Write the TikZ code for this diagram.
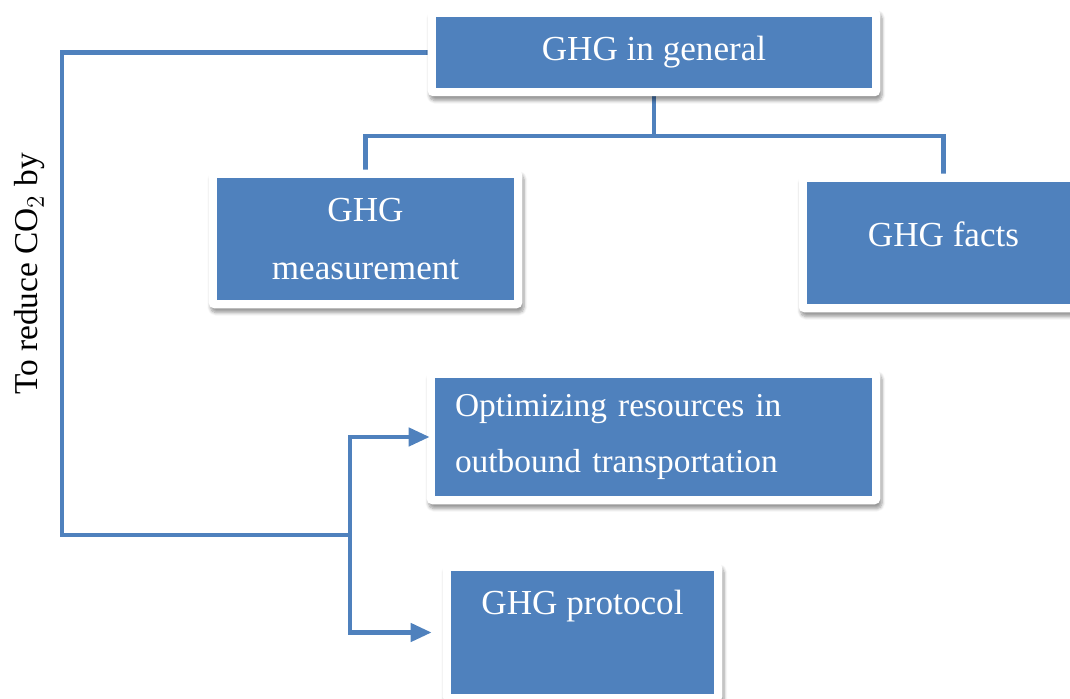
\documentclass[tikz,border=0pt]{standalone}
\usepackage{fontspec}
\setmainfont{Liberation Serif}
\usepackage{tikz}
\usetikzlibrary{arrows.meta,backgrounds,fit,shadows.blur}
\definecolor{ghgblue}{HTML}{4F81BD}

\begin{document}
\begin{tikzpicture}[
    box/.style={rectangle, fill=ghgblue, text=white, inner sep=0pt,
                font=\fontsize{20}{33}\selectfont, align=center},
    frame/.style={rectangle, rounded corners=3pt, fill=white, inner sep=4.5pt,
                  blur shadow={shadow xshift=1pt, shadow yshift=-2.5pt, shadow blur steps=6}},
    link/.style={draw=ghgblue, line width=2.6pt},
    arrow/.style={link, -{Triangle[length=0.42cm, width=0.36cm]}}
]
\useasboundingbox (0,0) rectangle (21.4,13.98);

% Top box
\node[box, minimum width=8.72cm, minimum height=1.42cm] (gen) at (13.08,12.93) {GHG in general};

% Row 2: the two branches
\node[box, minimum width=5.94cm, minimum height=2.44cm] (meas) at (7.31,9.2) {GHG\\measurement};
\node[box, minimum width=5.46cm, minimum height=2.44cm, text depth=0.35cm] (facts) at (18.87,9.12) {GHG facts};

% Row 3 and 4: ways to reduce
\node[box, minimum width=8.74cm, minimum height=2.36cm, text width=7.94cm,
      inner xsep=0.4cm, align=left, font=\fontsize{19}{32}\selectfont] (opt) at (13.07,5.24)
      {Optimizing resources in\\outbound transportation};
\node[box, minimum width=5.26cm, minimum height=2.46cm, text depth=1.2cm] (prot) at (11.65,1.33) {GHG protocol};

% Side label
\node[rotate=90, font=\fontsize{19}{24}\selectfont] (side) at (0.6,8.5) {To reduce CO$_2$ by};

\coordinate (bar) at (13.08,11.26);
\coordinate (corner) at (1.24,3.28);
\coordinate (split) at (7.0,3.28);

\begin{scope}[on background layer]
% Tree lines
\draw[link] (gen.south) -- (bar);
\draw[link] (bar) -| (meas.north);
\draw[link] (bar) -| (facts.north);
\draw[link] (gen.west) -| (corner) -- (split);

% Frames
\node[frame, fit=(gen)] (genframe) {};
\node[frame, fit=(meas)] (measframe) {};
\node[frame, fit=(facts)] (factsframe) {};
\node[frame, fit=(opt)] (optframe) {};
\node[frame, fit=(prot)] (protframe) {};
\end{scope}

% Arrows
\draw[arrow, shorten >=0.1cm] (split) |- (opt.west);
\draw[arrow, shorten >=0.38cm] (split) |- (prot.west);

\end{tikzpicture}
\end{document}
